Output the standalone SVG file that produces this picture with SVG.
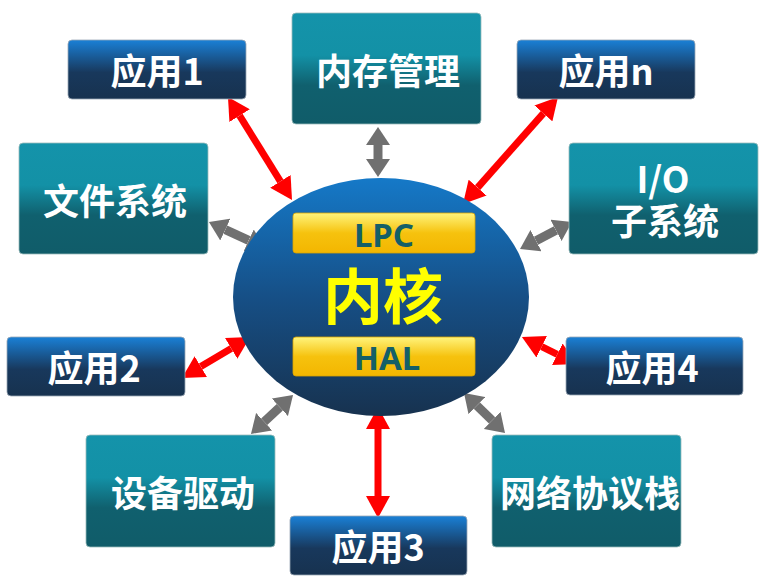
<svg xmlns="http://www.w3.org/2000/svg" width="771" height="587" viewBox="0 0 771 587">
<defs>
<linearGradient id="gApp" x1="0" y1="0" x2="0" y2="1">
<stop offset="0" stop-color="#1a80d6"/><stop offset="0.55" stop-color="#18385c"/><stop offset="1" stop-color="#17324f"/>
</linearGradient>
<linearGradient id="gSys" x1="0" y1="0" x2="0" y2="1">
<stop offset="0" stop-color="#1493aa"/><stop offset="0.38" stop-color="#1391a6"/><stop offset="0.65" stop-color="#10606e"/><stop offset="1" stop-color="#105c69"/>
</linearGradient>
<linearGradient id="gCore" x1="0" y1="0" x2="0" y2="1">
<stop offset="0" stop-color="#1579c8"/><stop offset="0.5" stop-color="#164f86"/><stop offset="1" stop-color="#17324f"/>
</linearGradient>
<linearGradient id="gBar" x1="0" y1="0" x2="0" y2="1">
<stop offset="0" stop-color="#fff47c"/><stop offset="0.5" stop-color="#f6c20e"/><stop offset="1" stop-color="#f3b600"/>
</linearGradient>
<marker id="hr" markerUnits="userSpaceOnUse" markerWidth="22" markerHeight="24" viewBox="0 -12 22 24" refX="0" refY="0" orient="auto-start-reverse">
<path d="M0,-12 L22,0 L0,12 z" fill="#ff0000"/>
</marker>
<marker id="hg" markerUnits="userSpaceOnUse" markerWidth="18" markerHeight="24" viewBox="0 -12 18 24" refX="0" refY="0" orient="auto-start-reverse">
<path d="M0,-12 L18,0 L0,12 z" fill="#707070"/>
</marker>
<style>
.app{fill:url(#gApp);stroke:#9aa7b5;stroke-width:0.8}
.sys{fill:url(#gSys);stroke:#9bb;stroke-width:0.8}
.t{font-family:"Noto Sans CJK SC","Noto Sans",sans-serif;font-weight:bold;fill:#ffffff;font-size:36px;text-anchor:middle;dominant-baseline:central}
.bar{fill:url(#gBar);stroke:#d9a300;stroke-width:0.8}
.bt{font-family:"Noto Sans","Noto Sans CJK SC",sans-serif;font-weight:bold;fill:#145f68;font-size:33px;text-anchor:middle;dominant-baseline:central}
.r{stroke:#ff0000;stroke-width:7;fill:none;marker-start:url(#hr);marker-end:url(#hr)}
.g{stroke:#707070;stroke-width:9;fill:none;marker-start:url(#hg);marker-end:url(#hg)}
</style>
</defs>
<rect width="771" height="587" fill="#ffffff"/>
<g id="connectors">
<line class="r" x1="239.6" y1="115.7" x2="280.4" y2="181.3"/>
<line class="r" x1="543.4" y1="113.4" x2="477.6" y2="187.6"/>
<line class="r" x1="200.8" y1="366.6" x2="231.2" y2="348.4"/>
<line class="r" x1="541.7" y1="346.7" x2="557.3" y2="354.3"/>
<line class="r" x1="378" y1="429" x2="378" y2="496"/>
<line class="g" x1="378" y1="145" x2="378" y2="159"/>
<line class="g" x1="225.3" y1="229.6" x2="248.7" y2="240.4"/>
<line class="g" x1="556" y1="230.3" x2="536" y2="240.7"/>
<line class="g" x1="264.2" y1="421.7" x2="279.8" y2="407.3"/>
<line class="g" x1="492.1" y1="420.4" x2="476.9" y2="405.6"/>
</g>
<g id="kernel">
<ellipse cx="381" cy="297" rx="148" ry="119" fill="url(#gCore)"/>
<rect class="bar" x="293" y="213" width="182" height="40" rx="3"/>
<text class="bt" x="384" y="234">LPC</text>
<rect class="bar" x="293" y="337" width="182" height="39" rx="3"/>
<text class="bt" x="387" y="357">HAL</text>
<text x="383" y="292" font-family="Noto Sans CJK SC,sans-serif" font-weight="bold" font-size="60" fill="#ffff00" text-anchor="middle" dominant-baseline="central">内核</text>
</g>
<g id="app1"><rect class="app" x="68" y="40" width="178" height="59" rx="4"/><text class="t" x="157" y="69">应用1</text></g>
<g id="appn"><rect class="app" x="517" y="40" width="178" height="59" rx="4"/><text class="t" x="606" y="69">应用n</text></g>
<g id="app2"><rect class="app" x="7" y="337" width="178" height="59" rx="4"/><text class="t" x="94" y="366">应用2</text></g>
<g id="app4"><rect class="app" x="566" y="337" width="177" height="58" rx="4"/><text class="t" x="652" y="366">应用4</text></g>
<g id="app3"><rect class="app" x="290" y="516" width="177" height="59" rx="4"/><text class="t" x="378" y="545">应用3</text></g>
<g id="mem"><rect class="sys" x="292" y="13" width="189" height="111" rx="4"/><text class="t" x="388" y="69">内存管理</text></g>
<g id="fs"><rect class="sys" x="19" y="143" width="189" height="111" rx="4"/><text class="t" x="115" y="199">文件系统</text></g>
<g id="io"><rect class="sys" x="569" y="143" width="189" height="111" rx="4"/><text class="t" x="663" y="177">I/O</text><text class="t" x="665" y="219">子系统</text></g>
<g id="dev"><rect class="sys" x="86" y="435" width="189" height="112" rx="4"/><text class="t" x="183" y="491">设备驱动</text></g>
<g id="net"><rect class="sys" x="492" y="435" width="189" height="112" rx="4"/><text class="t" x="590" y="491">网络协议栈</text></g>
</svg>
